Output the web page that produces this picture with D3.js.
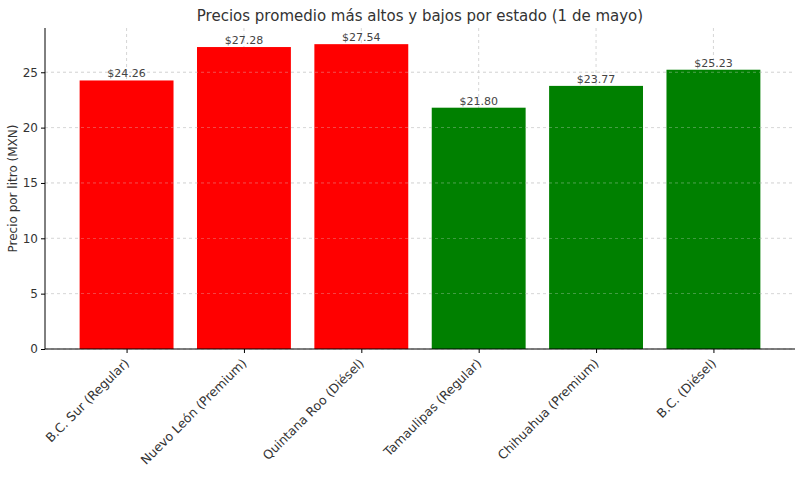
<!DOCTYPE html>
<html><head><meta charset="utf-8">
<script src="https://cdn.jsdelivr.net/npm/d3@7"></script>
<style>body{margin:0;background:#fff}text{font-family:"DejaVu Sans",sans-serif}</style>
</head><body><svg id="c" width="800" height="477"></svg>
<script>
const categories=["B.C. Sur (Regular)","Nuevo León (Premium)","Quintana Roo (Diésel)","Tamaulipas (Regular)","Chihuahua (Premium)","B.C. (Diésel)"];
const values=[24.26,27.28,27.54,21.80,23.77,25.23];
const colors=["red","red","red","green","green","green"];
const yTicks=[0,5,10,15,20,25];
const svg=d3.select("#c");
const L=45,R=795,T=28,B=349;
const x=d3.scaleLinear().domain([-0.695,5.695]).range([L,R]);
const y=d3.scaleLinear().domain([0,29]).range([B,T]);
const g=svg.append("g");
g.selectAll(".gy").data(yTicks).join("line").attr("x1",L).attr("x2",R).attr("y1",d=>y(d)).attr("y2",d=>y(d)).attr("stroke","#ccc").attr("stroke-dasharray","3,3").attr("stroke-width",0.8);
g.selectAll(".gx").data(categories).join("line").attr("x1",(d,i)=>x(i)).attr("x2",(d,i)=>x(i)).attr("y1",T).attr("y2",B).attr("stroke","#ccc").attr("stroke-dasharray","3,3").attr("stroke-width",0.8);
const bw=x(0.4)-x(0);
g.selectAll("rect").data(values).join("rect").attr("x",(d,i)=>x(i)-bw).attr("width",2*bw).attr("y",d=>y(d)).attr("height",d=>B-y(d)).attr("fill",(d,i)=>colors[i]);
g.selectAll(".gy2").data(yTicks.slice(1)).join("line").attr("x1",L).attr("x2",R).attr("y1",d=>y(d)).attr("y2",d=>y(d)).attr("stroke","#ddd").attr("stroke-dasharray","3,3").attr("stroke-width",0.6).attr("opacity",0.6);
g.selectAll(".vl").data(values).join("text").attr("x",(d,i)=>x(i)).attr("y",d=>y(d)-3).attr("text-anchor","middle").attr("font-size",11).attr("fill","#444").text(d=>"$"+d.toFixed(2));
const ya=svg.append("g").attr("transform",`translate(${L},0)`).call(d3.axisLeft(y).tickValues(yTicks).tickSize(4));
ya.select(".domain").attr("d",`M0,${T}V${B}`);
ya.selectAll("text").attr("font-size",12).attr("fill","#333");
const xa=svg.append("g").attr("transform",`translate(0,${B})`).call(d3.axisBottom(x).tickValues(d3.range(6)).tickFormat(i=>categories[i]).tickSize(4));
xa.select(".domain").attr("d",`M${L},0H${R}`);
xa.selectAll("text").attr("font-size",12.5).attr("fill","#333").attr("text-anchor","end").attr("dy",0).attr("transform","translate(-2,10) rotate(-45)");
svg.append("text").attr("x",420).attr("y",21).attr("text-anchor","middle").attr("font-size",15).attr("fill","#333").text("Precios promedio más altos y bajos por estado (1 de mayo)");
svg.append("text").attr("transform",`translate(17,${(T+B)/2}) rotate(-90)`).attr("text-anchor","middle").attr("font-size",12).attr("fill","#333").text("Precio por litro (MXN)");
</script></body></html>
